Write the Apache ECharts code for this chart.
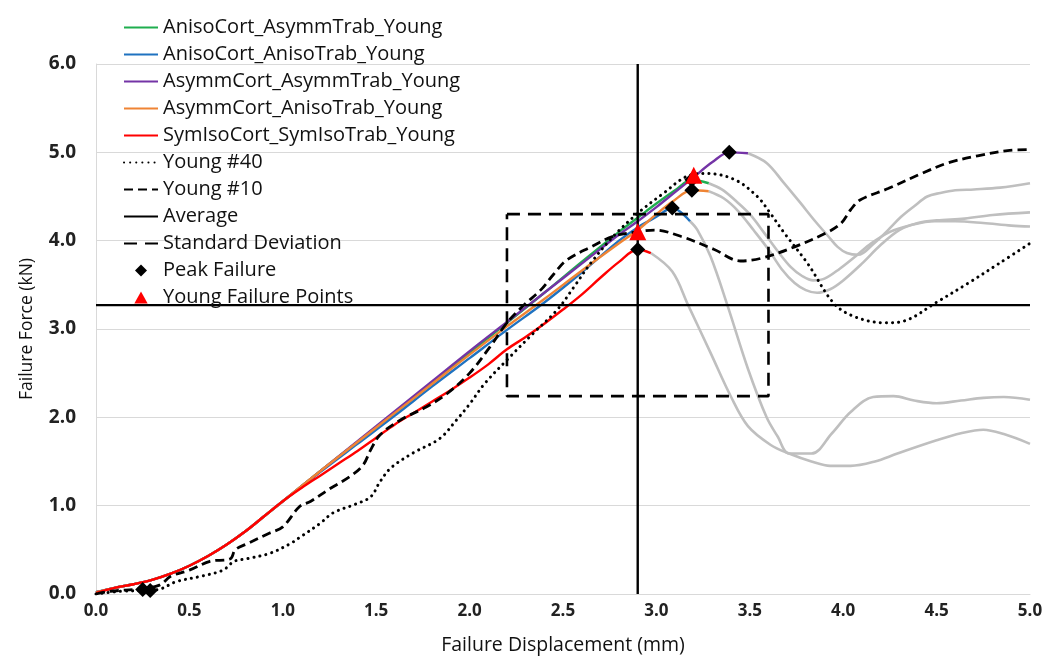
<!DOCTYPE html>
<html>
<head>
<meta charset="utf-8">
<script src="https://cdn.jsdelivr.net/npm/echarts@6/dist/echarts.min.js"></script>
<style>
  html, body { margin: 0; padding: 0; background: #fff; }
  #chart { width: 1058px; height: 661px; }
</style>
</head>
<body>
<div id="chart"></div>
<script>
// Force–displacement curves: [displacement (mm), force (kN)]
const anisoAsymm = [[0,0.02],[0.1,0.07],[0.2,0.11],[0.3,0.16],[0.4,0.23],[0.5,0.32],[0.6,0.43],[0.7,0.56],[0.8,0.71],[0.9,0.88],[1.0,1.05],[1.2,1.39],[1.4,1.72],[1.6,2.05],[1.8,2.39],[2.0,2.73],[2.2,3.07],[2.4,3.41],[2.6,3.76],[2.8,4.10],[2.9,4.26],[3.0,4.42],[3.1,4.57],[3.19,4.69],[3.28,4.65]];
const anisoAniso = [[0,0.02],[0.1,0.07],[0.2,0.11],[0.3,0.16],[0.4,0.23],[0.5,0.32],[0.6,0.43],[0.7,0.56],[0.8,0.71],[0.9,0.88],[1.0,1.05],[1.2,1.38],[1.4,1.70],[1.6,2.02],[1.8,2.35],[2.0,2.67],[2.2,2.99],[2.4,3.30],[2.6,3.64],[2.8,4.00],[2.9,4.15],[3.0,4.27],[3.085,4.37],[3.18,4.22]];
const asymmAsymm = [[0,0.02],[0.1,0.07],[0.2,0.11],[0.3,0.16],[0.4,0.23],[0.5,0.32],[0.6,0.43],[0.7,0.56],[0.8,0.71],[0.9,0.88],[1.0,1.05],[1.2,1.39],[1.4,1.73],[1.6,2.07],[1.8,2.41],[2.0,2.75],[2.2,3.08],[2.4,3.41],[2.6,3.74],[2.8,4.07],[2.9,4.22],[3.0,4.38],[3.1,4.55],[3.2,4.72],[3.3,4.89],[3.39,5.00],[3.49,4.99]];
const asymmAniso = [[0,0.02],[0.1,0.07],[0.2,0.11],[0.3,0.16],[0.4,0.23],[0.5,0.32],[0.6,0.43],[0.7,0.56],[0.8,0.71],[0.9,0.88],[1.0,1.05],[1.2,1.39],[1.4,1.72],[1.6,2.05],[1.8,2.38],[2.0,2.71],[2.2,3.03],[2.4,3.34],[2.6,3.66],[2.8,3.97],[2.9,4.12],[3.0,4.30],[3.085,4.44],[3.19,4.57],[3.28,4.56]];
const symIso = [[0,0.01],[0.1,0.07],[0.2,0.11],[0.3,0.16],[0.4,0.23],[0.5,0.32],[0.6,0.43],[0.7,0.56],[0.8,0.71],[0.9,0.88],[1.0,1.05],[1.1,1.20],[1.2,1.34],[1.3,1.48],[1.4,1.62],[1.5,1.77],[1.6,1.92],[1.7,2.05],[1.8,2.18],[1.9,2.31],[2.0,2.45],[2.1,2.60],[2.2,2.77],[2.3,2.91],[2.4,3.06],[2.5,3.22],[2.6,3.39],[2.7,3.58],[2.8,3.76],[2.9,3.90],[2.97,3.86]];

// Post-peak continuation of each model
const postAnisoAsymm = [[3.28,4.65],[3.35,4.58],[3.42,4.46],[3.50,4.30],[3.58,4.08],[3.65,3.88],[3.72,3.70],[3.78,3.60],[3.84,3.55],[3.90,3.57],[3.98,3.68],[4.07,3.83],[4.15,3.97],[4.25,4.10],[4.35,4.17],[4.49,4.22],[4.60,4.22],[4.75,4.20],[4.90,4.17],[5.0,4.16]];
const postAnisoAniso = [[3.18,4.22],[3.22,4.12],[3.29,3.82],[3.38,3.27],[3.49,2.55],[3.59,2.00],[3.65,1.78],[3.71,1.59],[3.83,1.59],[3.94,1.82],[4.04,2.06],[4.16,2.23],[4.27,2.24],[4.38,2.19],[4.50,2.16],[4.63,2.19],[4.75,2.22],[4.86,2.23],[5.0,2.20]];
const postAsymmAsymm = [[3.49,4.99],[3.59,4.88],[3.68,4.66],[3.77,4.43],[3.85,4.22],[3.92,4.05],[3.97,3.93],[4.02,3.86],[4.08,3.84],[4.16,3.96],[4.24,4.12],[4.31,4.27],[4.38,4.39],[4.45,4.50],[4.52,4.54],[4.60,4.57],[4.70,4.58],[4.84,4.60],[5.0,4.65]];
const postAsymmAniso = [[3.28,4.56],[3.36,4.48],[3.44,4.33],[3.52,4.12],[3.60,3.90],[3.67,3.68],[3.74,3.52],[3.80,3.44],[3.86,3.41],[3.93,3.45],[4.00,3.55],[4.10,3.74],[4.20,3.95],[4.30,4.12],[4.40,4.20],[4.50,4.23],[4.65,4.25],[4.80,4.29],[5.0,4.32]];
const postSymIso = [[2.97,3.86],[3.085,3.65],[3.17,3.27],[3.29,2.73],[3.40,2.23],[3.49,1.90],[3.61,1.69],[3.71,1.59],[3.83,1.50],[3.93,1.45],[4.04,1.45],[4.17,1.50],[4.29,1.59],[4.50,1.74],[4.63,1.82],[4.75,1.86],[4.86,1.81],[5.0,1.70]];

// Experimental specimens
const young40 = [[0,0],[0.13,0.03],[0.33,0.05],[0.43,0.14],[0.56,0.20],[0.68,0.27],[0.74,0.37],[0.81,0.40],[0.93,0.46],[1.04,0.57],[1.09,0.64],[1.20,0.80],[1.27,0.92],[1.38,1.01],[1.47,1.10],[1.52,1.27],[1.58,1.43],[1.70,1.60],[1.84,1.76],[1.93,1.97],[2.00,2.15],[2.08,2.38],[2.20,2.65],[2.34,2.95],[2.47,3.22],[2.56,3.48],[2.65,3.75],[2.77,4.05],[2.90,4.31],[3.04,4.54],[3.165,4.73],[3.27,4.76],[3.42,4.69],[3.54,4.50],[3.61,4.31],[3.68,4.10],[3.81,3.74],[3.95,3.29],[4.06,3.14],[4.22,3.07],[4.34,3.10],[4.49,3.29],[4.67,3.52],[4.84,3.75],[5.0,3.97]];
const young10 = [[0,0],[0.075,0.03],[0.24,0.06],[0.34,0.10],[0.40,0.20],[0.50,0.27],[0.61,0.37],[0.72,0.40],[0.745,0.50],[0.81,0.57],[0.93,0.69],[1.00,0.76],[1.09,0.99],[1.15,1.05],[1.25,1.19],[1.36,1.33],[1.43,1.46],[1.47,1.63],[1.52,1.80],[1.63,1.97],[1.77,2.12],[1.88,2.27],[2.00,2.50],[2.11,2.80],[2.20,3.07],[2.29,3.27],[2.38,3.44],[2.45,3.62],[2.52,3.78],[2.65,3.93],[2.77,4.05],[2.90,4.10],[2.99,4.12],[3.13,4.05],[3.31,3.90],[3.45,3.77],[3.56,3.80],[3.74,3.93],[3.92,4.10],[3.99,4.20],[4.04,4.35],[4.09,4.46],[4.24,4.59],[4.42,4.76],[4.56,4.88],[4.72,4.96],[4.88,5.02],[5.0,5.03]];

// Summary statistics of the failure points
const meanDisp = 2.90, sdDisp = 0.70;
const meanForce = 3.27, sdForce = 1.03;

const peakFailure = [[0.25,0.05],[0.29,0.04],[2.90,3.90],[3.085,4.37],[3.19,4.57],[3.19,4.69],[3.39,5.00]];
const youngFailure = [[2.90,4.10],[3.20,4.74]];

const xTicks = { min: 0, max: 5, interval: 0.5 };
const yTicks = { min: 0, max: 6, interval: 1 };

const FONT = '"Open Sans", Lato, sans-serif';
const GRAY = '#bfbfbf';

function curve(name, data, color, width, extra) {
  return Object.assign({
    name: name, type: 'line', data: data, smooth: 0.35,
    showSymbol: false, symbol: 'none', silent: true,
    lineStyle: { color: color, width: width },
    itemStyle: { color: color }
  }, extra || {});
}

// legend entry drawn as a plain line sample (no point marker)
function lineEntry(name) {
  return { name: name, itemStyle: { opacity: 0 } };
}

const avgH = [[xTicks.min, meanForce], [xTicks.max, meanForce]];
const avgV = [[meanDisp, yTicks.min], [meanDisp, yTicks.max]];
const sdBox = [
  [meanDisp - sdDisp, meanForce + sdForce],
  [meanDisp + sdDisp, meanForce + sdForce],
  [meanDisp + sdDisp, meanForce - sdForce],
  [meanDisp - sdDisp, meanForce - sdForce],
  [meanDisp - sdDisp, meanForce + sdForce]
];

const chart = echarts.init(document.getElementById('chart'), null, { renderer: 'canvas' });
chart.setOption({
  animation: false,
  backgroundColor: '#fff',
  grid: { left: 96, right: 28, top: 64, bottom: 67, containLabel: false },
  legend: {
    orient: 'vertical', left: 118, top: 12,
    itemWidth: 34, itemHeight: 12, itemGap: 6, symbolKeepAspect: true,
    textStyle: { fontFamily: FONT, fontSize: 20, color: '#111', lineHeight: 21 },
    data: [
      lineEntry('AnisoCort_AsymmTrab_Young'), lineEntry('AnisoCort_AnisoTrab_Young'),
      lineEntry('AsymmCort_AsymmTrab_Young'), lineEntry('AsymmCort_AnisoTrab_Young'),
      lineEntry('SymIsoCort_SymIsoTrab_Young'), lineEntry('Young #40'), lineEntry('Young #10'),
      lineEntry('Average'), lineEntry('Standard Deviation'),
      { name: 'Peak Failure', icon: 'path://M5,0 L10,5 L5,10 L0,5 Z' },
      { name: 'Young Failure Points', icon: 'path://M5,0 L10,9 L0,9 Z' }
    ]
  },
  xAxis: {
    type: 'value', min: xTicks.min, max: xTicks.max, interval: xTicks.interval,
    name: 'Failure Displacement (mm)', nameLocation: 'middle', nameGap: 41,
    nameTextStyle: { fontFamily: FONT, fontSize: 19.5, color: '#111' },
    axisLine: { show: true, lineStyle: { color: '#d9d9d9', width: 1 } },
    axisTick: { show: false },
    splitLine: { show: false },
    axisLabel: { fontFamily: FONT, fontSize: 17, fontWeight: 'bold', color: '#222', margin: 9,
      formatter: v => v.toFixed(1) }
  },
  yAxis: {
    type: 'value', min: yTicks.min, max: yTicks.max, interval: yTicks.interval,
    name: 'Failure Force (kN)', nameLocation: 'middle', nameGap: 60,
    nameTextStyle: { fontFamily: FONT, fontSize: 17.5, color: '#111' },
    axisLine: { show: true, lineStyle: { color: '#d9d9d9', width: 1 } },
    axisTick: { show: false },
    splitLine: { show: true, lineStyle: { color: '#d9d9d9', width: 1 } },
    axisLabel: { fontFamily: FONT, fontSize: 19, fontWeight: 'bold', color: '#222', margin: 20,
      formatter: v => v.toFixed(1) }
  },
  series: [
    // post-peak softening (grey)
    curve('post1', postAnisoAsymm, GRAY, 2.6),
    curve('post2', postAnisoAniso, GRAY, 2.6),
    curve('post3', postAsymmAsymm, GRAY, 2.6),
    curve('post4', postAsymmAniso, GRAY, 2.6),
    curve('post5', postSymIso, GRAY, 2.6),
    // model curves
    curve('AnisoCort_AsymmTrab_Young', anisoAsymm, '#1fae4f', 2.4),
    curve('AnisoCort_AnisoTrab_Young', anisoAniso, '#1f72c0', 2.4),
    curve('AsymmCort_AsymmTrab_Young', asymmAsymm, '#7434a6', 2.4),
    curve('AsymmCort_AnisoTrab_Young', asymmAniso, '#ef8434', 2.4),
    curve('SymIsoCort_SymIsoTrab_Young', symIso, '#ff0000', 2.4),
    // specimens
    curve('Young #40', young40, '#000', 3, { lineStyle: { color: '#000', width: 3, type: [0.1, 6], cap: 'round' } }),
    curve('Young #10', young10, '#000', 2.8, { lineStyle: { color: '#000', width: 2.8, type: [9, 5] } }),
    // statistics
    curve('Average', avgH, '#000', 2.4, { smooth: false }),
    curve('Average', avgV, '#000', 2.4, { smooth: false }),
    curve('Standard Deviation', sdBox, '#000', 2.6, { smooth: false, lineStyle: { color: '#000', width: 2.6, type: [13, 8] } }),
    {
      name: 'Peak Failure', type: 'scatter', data: peakFailure, symbol: 'diamond', symbolSize: 15,
      itemStyle: { color: '#000', opacity: 1 }, z: 5, silent: true
    },
    {
      name: 'Young Failure Points', type: 'scatter', data: youngFailure, symbol: 'triangle', symbolSize: 17,
      itemStyle: { color: '#ff0000', opacity: 1 }, z: 6, silent: true
    }
  ]
});
</script>
</body>
</html>
